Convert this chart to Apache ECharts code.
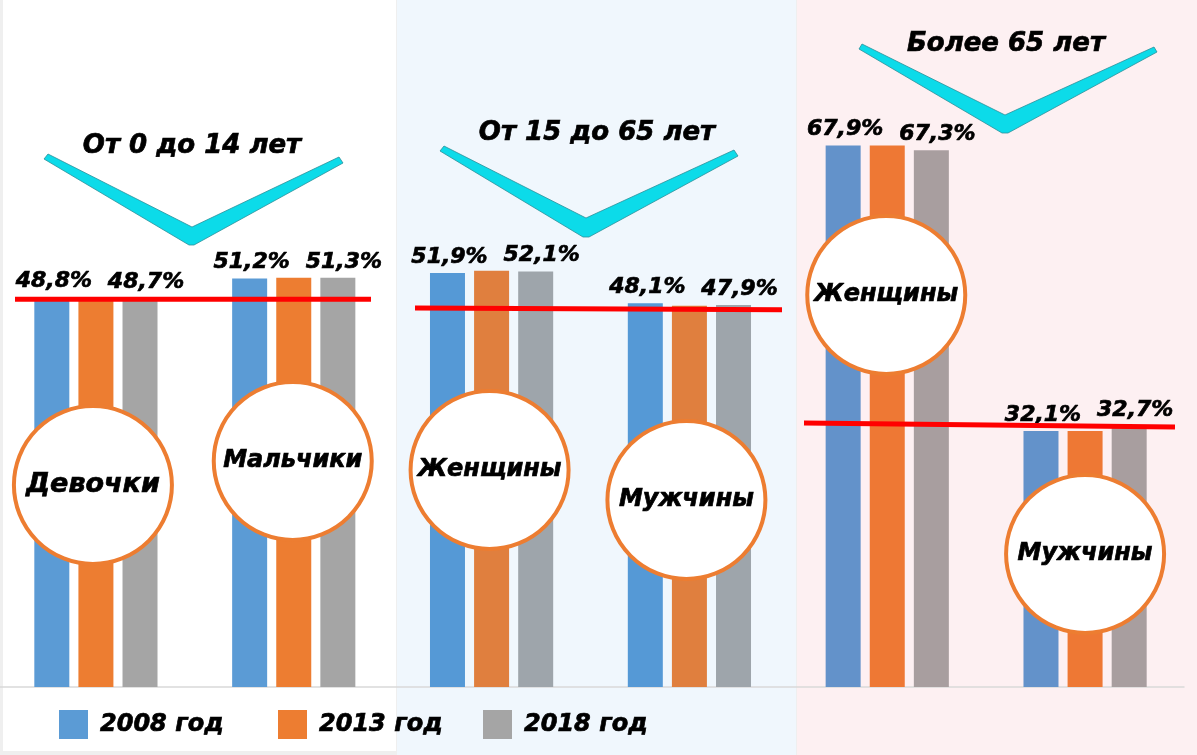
<!DOCTYPE html>
<html>
<head>
<meta charset="utf-8">
<script src="https://cdn.jsdelivr.net/npm/echarts@6/dist/echarts.min.js"></script>
<style>
  html, body { margin: 0; padding: 0; background: #efefef; }
  #chart { width: 1197px; height: 755px; }
</style>
</head>
<body>
<div id="chart"></div>
<script>
// категории (подписи в кругах) и возрастные группы
const categories = ['Девочки', 'Мальчики', 'Женщины', 'Мужчины', 'Женщины', 'Мужчины']
const groups = ['От 0 до 14 лет', 'От 15 до 65 лет', 'Более 65 лет']
const years = ['2008 год', '2013 год', '2018 год']

// доля, %
const share2008 = [48.8, 51.2, 51.9, 48.1, 67.9, 32.1]
const share2013 = [48.7, 51.3, 52.2, 47.8, 67.9, 32.1]
const share2018 = [48.7, 51.3, 52.1, 47.9, 67.3, 32.7]

// уровни красных линий (начало / конец), %
const refLineStart = [48.6, 47.5, 33.1]
const refLineEnd = [48.6, 47.3, 32.6]

// --- оформление ---
const FONT = "'DejaVu Sans', Verdana, sans-serif"
const legendColors = ['#5b9bd5', '#ed7d31', '#a5a5a5']
const panelColors = [
  ['#5b9bd5', '#ed7d31', '#a5a5a5'],
  ['#5599d6', '#e07f3e', '#9ea5ab'],
  ['#6392ca', '#ee7834', '#a89e9f'],
]
const panels = [
  { x: 3, w: 393, h: 751, fill: '#ffffff' },
  { x: 397, w: 399, h: 755, fill: '#f0f7fd' },
  { x: 797, w: 400, h: 755, fill: '#fdf0f2' },
]
const refLineX = [[15, 371], [415, 782], [804, 1175]]
const circleDx = [-3, -1, -2, -3, -1, 0]
const circleY = [485, 461, 470, 500, 295, 554]
const circleFont = [27, 24, 24, 24, 24, 24]
const chevrons = [
  { pts: [[48, 154], [192, 227], [339, 157], [343, 163], [194, 245], [189, 245], [44, 159]], tx: 192, ty: 146 },
  { pts: [[444, 146], [586, 218], [734, 150], [738, 156], [589, 237], [583, 237], [440, 151]], tx: 597, ty: 133 },
  { pts: [[862, 44], [1005, 115], [1154, 47], [1157, 52], [1008, 133], [1002, 133], [859, 49]], tx: 1006, ty: 44 },
]

const boldItalic = {
  fontFamily: FONT,
  fontWeight: 'bold',
  fontStyle: 'italic',
  color: '#000',
  textBorderColor: '#000',
  textBorderWidth: 0.7,
}

function pct(v) {
  return v.toFixed(1).replace('.', ',') + '%'
}

function makeSeries(name, data, idx, showLabel, offsetX) {
  return {
    name,
    type: 'bar',
    data,
    barWidth: 35,
    barGap: '26%',
    itemStyle: {
      color: (p) => panelColors[Math.floor(p.dataIndex / 2)][idx],
    },
    label: {
      show: showLabel,
      position: 'top',
      distance: 5,
      offset: [offsetX, 0],
      formatter: (p) => pct(p.value),
      fontSize: 22,
      ...boldItalic,
    },
  }
}

const chart = echarts.init(document.getElementById('chart'))

const legendLeft = [59, 278, 483]

chart.setOption({
  backgroundColor: '#efefef',
  animation: false,
  grid: { left: -3, width: 1187, top: 9, height: 678, outerBoundsMode: 'none', containLabel: false },
  xAxis: {
    type: 'category',
    data: categories,
    axisLine: { lineStyle: { color: '#d9d9d9', width: 1.5 } },
    axisTick: { show: false },
    axisLabel: { show: false },
  },
  yAxis: { type: 'value', min: 0, max: 85, show: false },
  legend: years.map((name, i) => ({
    data: [{ name, itemStyle: { color: legendColors[i] } }],
    left: legendLeft[i],
    top: 710,
    padding: 0,
    icon: 'rect',
    itemWidth: 29,
    itemHeight: 29,
    selectedMode: false,
    textStyle: { fontSize: 24, padding: [0, 0, 0, 7], ...boldItalic },
  })),
  series: [
    makeSeries(years[0], share2008, 0, true, 2),
    makeSeries(years[1], share2013, 1, false, 0),
    makeSeries(years[2], share2018, 2, true, 6),
  ],
})

// декоративные элементы: фон панелей, шевроны, красные линии, круги
const textStyle = (text, size) => ({
  text,
  fontSize: size,
  fontFamily: FONT,
  fontWeight: 'bold',
  fontStyle: 'italic',
  fill: '#000',
  stroke: '#000',
  lineWidth: 0.7,
  align: 'center',
  verticalAlign: 'middle',
})

const graphic = []
panels.forEach((p) => {
  graphic.push({
    type: 'rect',
    z: -10,
    shape: { x: p.x, y: 0, width: p.w, height: p.h },
    style: { fill: p.fill },
  })
})
chevrons.forEach((c, i) => {
  graphic.push({
    type: 'polygon',
    z: 40,
    shape: { points: c.pts },
    style: { fill: '#0cdbe9', stroke: '#2b8f99', lineWidth: 0.8 },
  })
  graphic.push({ type: 'text', z: 41, x: c.tx, y: c.ty, style: textStyle(groups[i], 26) })
})
refLineX.forEach((xs, i) => {
  const y1 = chart.convertToPixel({ yAxisIndex: 0 }, refLineStart[i])
  const y2 = chart.convertToPixel({ yAxisIndex: 0 }, refLineEnd[i])
  graphic.push({
    type: 'line',
    z: 50,
    shape: { x1: xs[0], y1, x2: xs[1], y2 },
    style: { stroke: '#ff0000', lineWidth: 5 },
  })
})
categories.forEach((name, i) => {
  const cx = chart.convertToPixel({ xAxisIndex: 0 }, i) + circleDx[i]
  graphic.push({
    type: 'circle',
    z: 60,
    shape: { cx, cy: circleY[i], r: 79 },
    style: { fill: '#ffffff', stroke: '#ed7d31', lineWidth: 4 },
  })
  graphic.push({ type: 'text', z: 61, x: cx, y: circleY[i], style: textStyle(name, circleFont[i]) })
})

chart.setOption({ graphic })
</script>
</body>
</html>
